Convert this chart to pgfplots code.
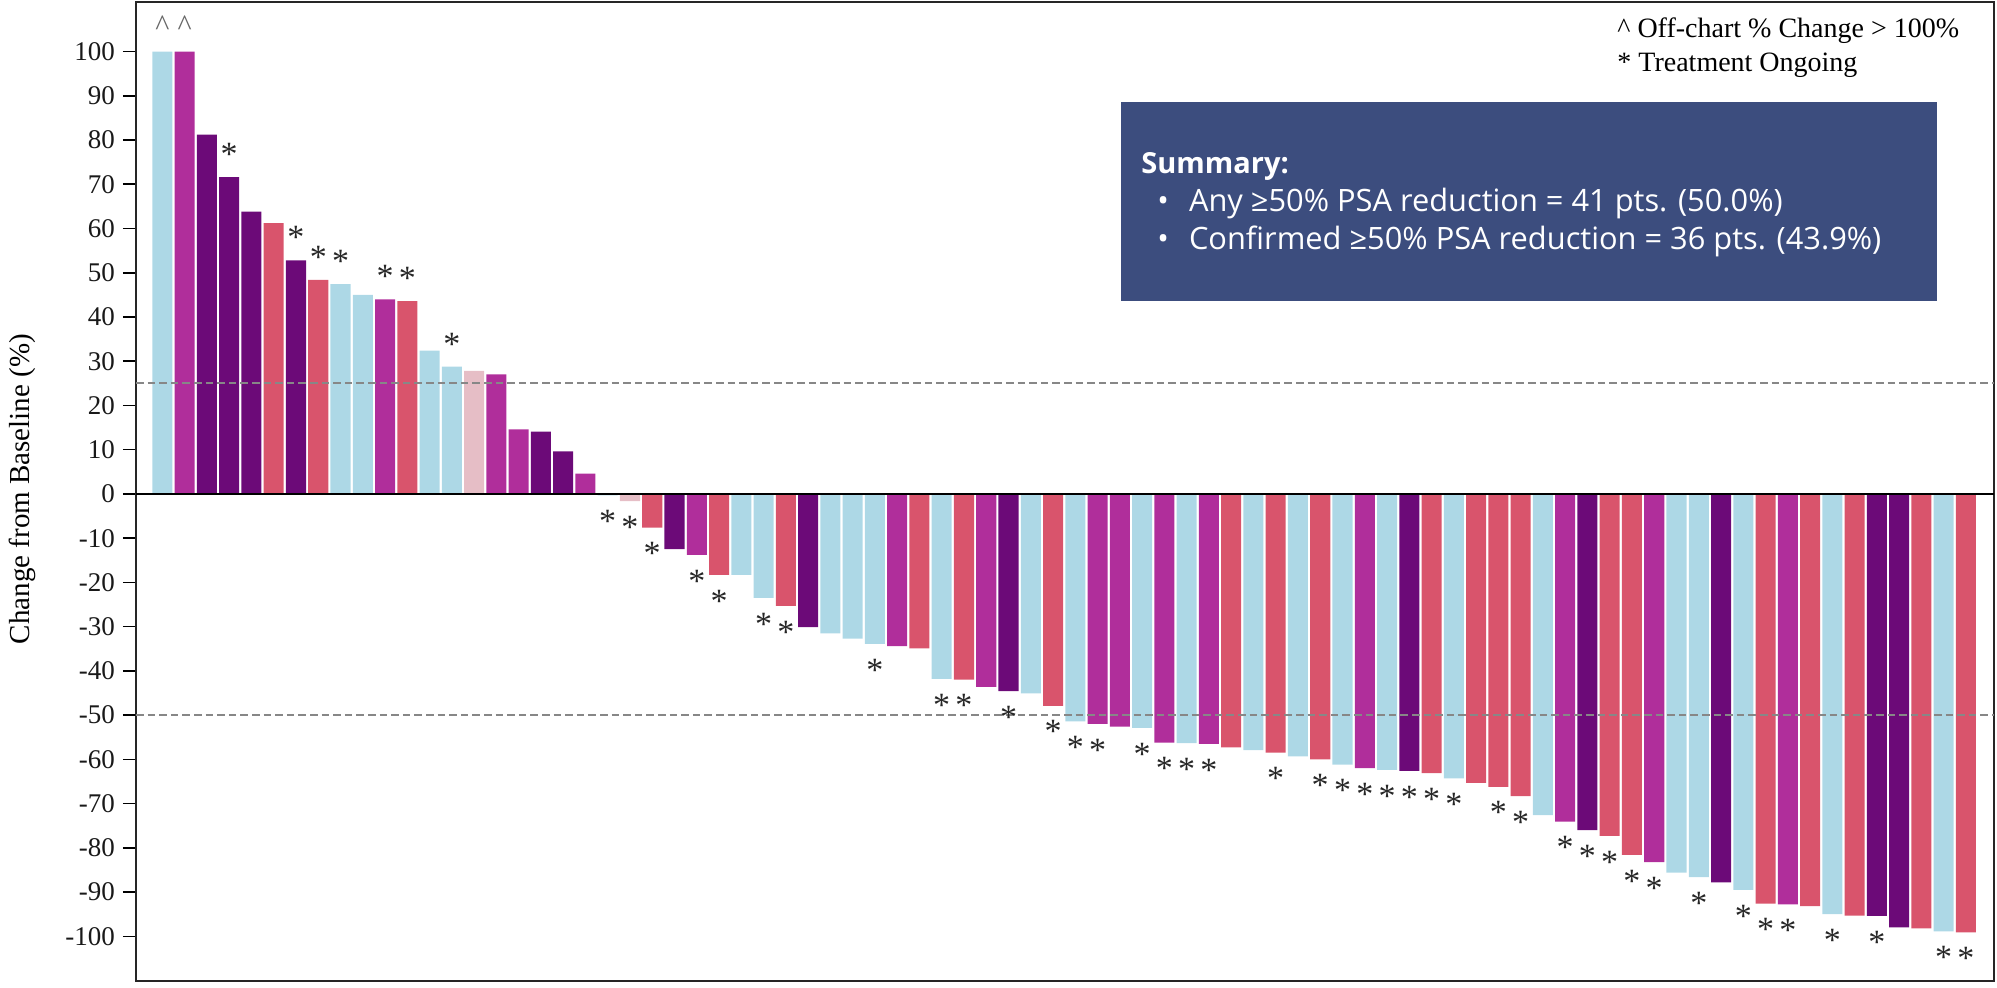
\documentclass[border=0pt]{standalone}
\usepackage{fontspec}
\setmainfont{Liberation Serif}
\newfontfamily\sumfont{Open Sans}
\usepackage{pgfplots}
\usepackage{pgfplotstable}
\pgfplotsset{compat=1.18}
\definecolor{cLB}{RGB}{173,216,230}
\definecolor{cM}{RGB}{176,46,155}
\definecolor{cDP}{RGB}{108,10,120}
\definecolor{cR}{RGB}{217,84,108}
\definecolor{cP}{RGB}{230,190,198}
\definecolor{cBox}{RGB}{60,77,126}
\definecolor{cDash}{RGB}{135,135,135}
\pgfplotstableread{
i v g s
1 100 1 3
2 100 2 3
3 81.2 3 0
4 71.6 3 1
5 63.8 3 0
6 61.2 4 0
7 52.8 3 1
8 48.4 4 1
9 47.4 1 1
10 45.0 1 0
11 44.0 2 1
12 43.6 4 1
13 32.4 1 0
14 28.8 1 1
15 27.8 5 0
16 27.0 2 0
17 14.6 2 0
18 14.1 3 0
19 9.6 3 0
20 4.6 2 0
21 -0.3 1 2
22 -1.6 5 2
23 -7.6 4 2
24 -12.5 3 0
25 -13.8 2 2
26 -18.3 4 2
27 -18.3 1 0
28 -23.5 1 2
29 -25.3 4 2
30 -30.1 3 0
31 -31.5 1 0
32 -32.7 1 0
33 -33.9 1 2
34 -34.4 2 0
35 -34.9 4 0
36 -41.8 1 2
37 -42.0 4 2
38 -43.6 2 0
39 -44.6 3 2
40 -45.1 1 0
41 -47.9 4 2
42 -51.4 1 2
43 -52.0 2 2
44 -52.6 2 0
45 -52.9 1 2
46 -56.2 2 2
47 -56.3 1 2
48 -56.5 2 2
49 -57.3 4 0
50 -57.9 1 0
51 -58.5 4 2
52 -59.3 1 0
53 -60.0 4 2
54 -61.2 1 2
55 -62.0 2 2
56 -62.4 1 2
57 -62.6 3 2
58 -63.1 4 2
59 -64.3 1 2
60 -65.3 4 0
61 -66.2 4 2
62 -68.3 4 2
63 -72.6 1 0
64 -74.1 2 2
65 -76.0 3 2
66 -77.3 4 2
67 -81.6 4 2
68 -83.2 2 2
69 -85.6 1 0
70 -86.6 1 2
71 -87.8 3 0
72 -89.5 1 2
73 -92.6 4 2
74 -92.8 2 2
75 -93.2 4 0
76 -95.0 1 2
77 -95.3 4 0
78 -95.4 3 2
79 -98.0 3 0
80 -98.2 4 0
81 -98.9 1 2
82 -99.1 4 2
}\data
\begin{document}
\begin{tikzpicture}
\begin{axis}[name=ax, at={(0,0)}, anchor=south west,
  width=929pt, height=489.5pt, scale only axis,
  xmin=-0.185, xmax=83.26, ymin=-110.1, ymax=111.2,
  xtick=\empty,
  ytick={-100,-90,...,100}, ytick pos=left,
  tick align=outside, major tick length=6.5pt,
  ytick style={black, line width=0.8pt},
  axis line style={black!85, line width=0.9pt},
  yticklabel style={font=\fontsize{13.5}{13.5}\selectfont, /pgf/number format/assume math mode=true, xshift=-0.5pt, text=black!90},
  every axis plot/.append style={forget plot},
  unbounded coords=discard,
  mybar/.style={ybar, bar width=0.9, bar shift=0pt, draw=none, fill=#1},
  sel/.style 2 args={restrict expr to domain={\thisrow{#1}}{#2:#2}},
  starmark/.style={only marks, mark=text, text mark={*}, text mark as node=true,
    text mark style={anchor=base, inner sep=0pt, font=\fontsize{17}{17}\selectfont, text=black!85}},
  clip=false]
\addplot[mybar=cLB, sel={g}{1}] table[x=i,y=v]{\data};
\addplot[mybar=cM, sel={g}{2}] table[x=i,y=v]{\data};
\addplot[mybar=cDP, sel={g}{3}] table[x=i,y=v]{\data};
\addplot[mybar=cR, sel={g}{4}] table[x=i,y=v]{\data};
\addplot[mybar=cP, sel={g}{5}] table[x=i,y=v]{\data};
\addplot[black, line width=1.1pt] coordinates {(-0.185,0) (83.26,0)};
\addplot[cDash, line width=1pt, dash pattern=on 3.8pt off 2pt] coordinates {(-0.185,25) (83.26,25)};
\addplot[cDash, line width=1pt, dash pattern=on 3.8pt off 2pt] coordinates {(-0.185,-50) (83.26,-50)};
\addplot[starmark, sel={s}{1}] table[x=i, y expr=\thisrow{v}+2.6]{\data};
\addplot[starmark, sel={s}{2}] table[x=i, y expr=\thisrow{v}-8.4]{\data};
\addplot[only marks, mark=text, text mark={\textasciicircum}, text mark as node=true,
  text mark style={anchor=base, inner sep=0pt, font=\fontsize{15}{15}\selectfont, text=black!60},
  sel={s}{3}] table[x=i, y expr=\thisrow{v}+3.6]{\data};
\end{axis}
\node[rotate=90, font=\fontsize{14.5}{14.5}\selectfont] at (-57pt,246pt) {Change from Baseline (\%)};
\node[anchor=base west, inner sep=0pt, font=\fontsize{14}{14}\selectfont] at (740.5pt,471.5pt) {\textasciicircum{} Off-chart \% Change > 100\%};
\node[anchor=base west, inner sep=0pt, font=\fontsize{14}{14}\selectfont] at (740.5pt,454.5pt) {* Treatment Ongoing};
\fill[cBox] (492.5pt,340pt) rectangle (900.5pt,439.5pt);
\node[anchor=base west, inner sep=0pt, text=white, font=\sumfont\bfseries\fontsize{14.5}{14.5}\selectfont] at (502.5pt,403.5pt) {Summary:};
\node[anchor=base west, inner sep=0pt, text=white, font=\sumfont\fontsize{15.4}{15.4}\selectfont] at (510.5pt,384.5pt) {•};
\node[anchor=base west, inner sep=0pt, text=white, font=\sumfont\fontsize{15.4}{15.4}\selectfont] at (526.3pt,384.5pt) {Any ≥50\% PSA reduction = 41 pts. (50.0\%)};
\node[anchor=base west, inner sep=0pt, text=white, font=\sumfont\fontsize{15.4}{15.4}\selectfont] at (510.5pt,365.5pt) {•};
\node[anchor=base west, inner sep=0pt, text=white, font=\sumfont\fontsize{15.4}{15.4}\selectfont] at (526.3pt,365.5pt) {Confirmed ≥50\% PSA reduction = 36 pts. (43.9\%)};
\pgfresetboundingbox
\path[use as bounding box] (-68pt,-3pt) rectangle (930.5pt,490.5pt);
\end{tikzpicture}
\end{document}
